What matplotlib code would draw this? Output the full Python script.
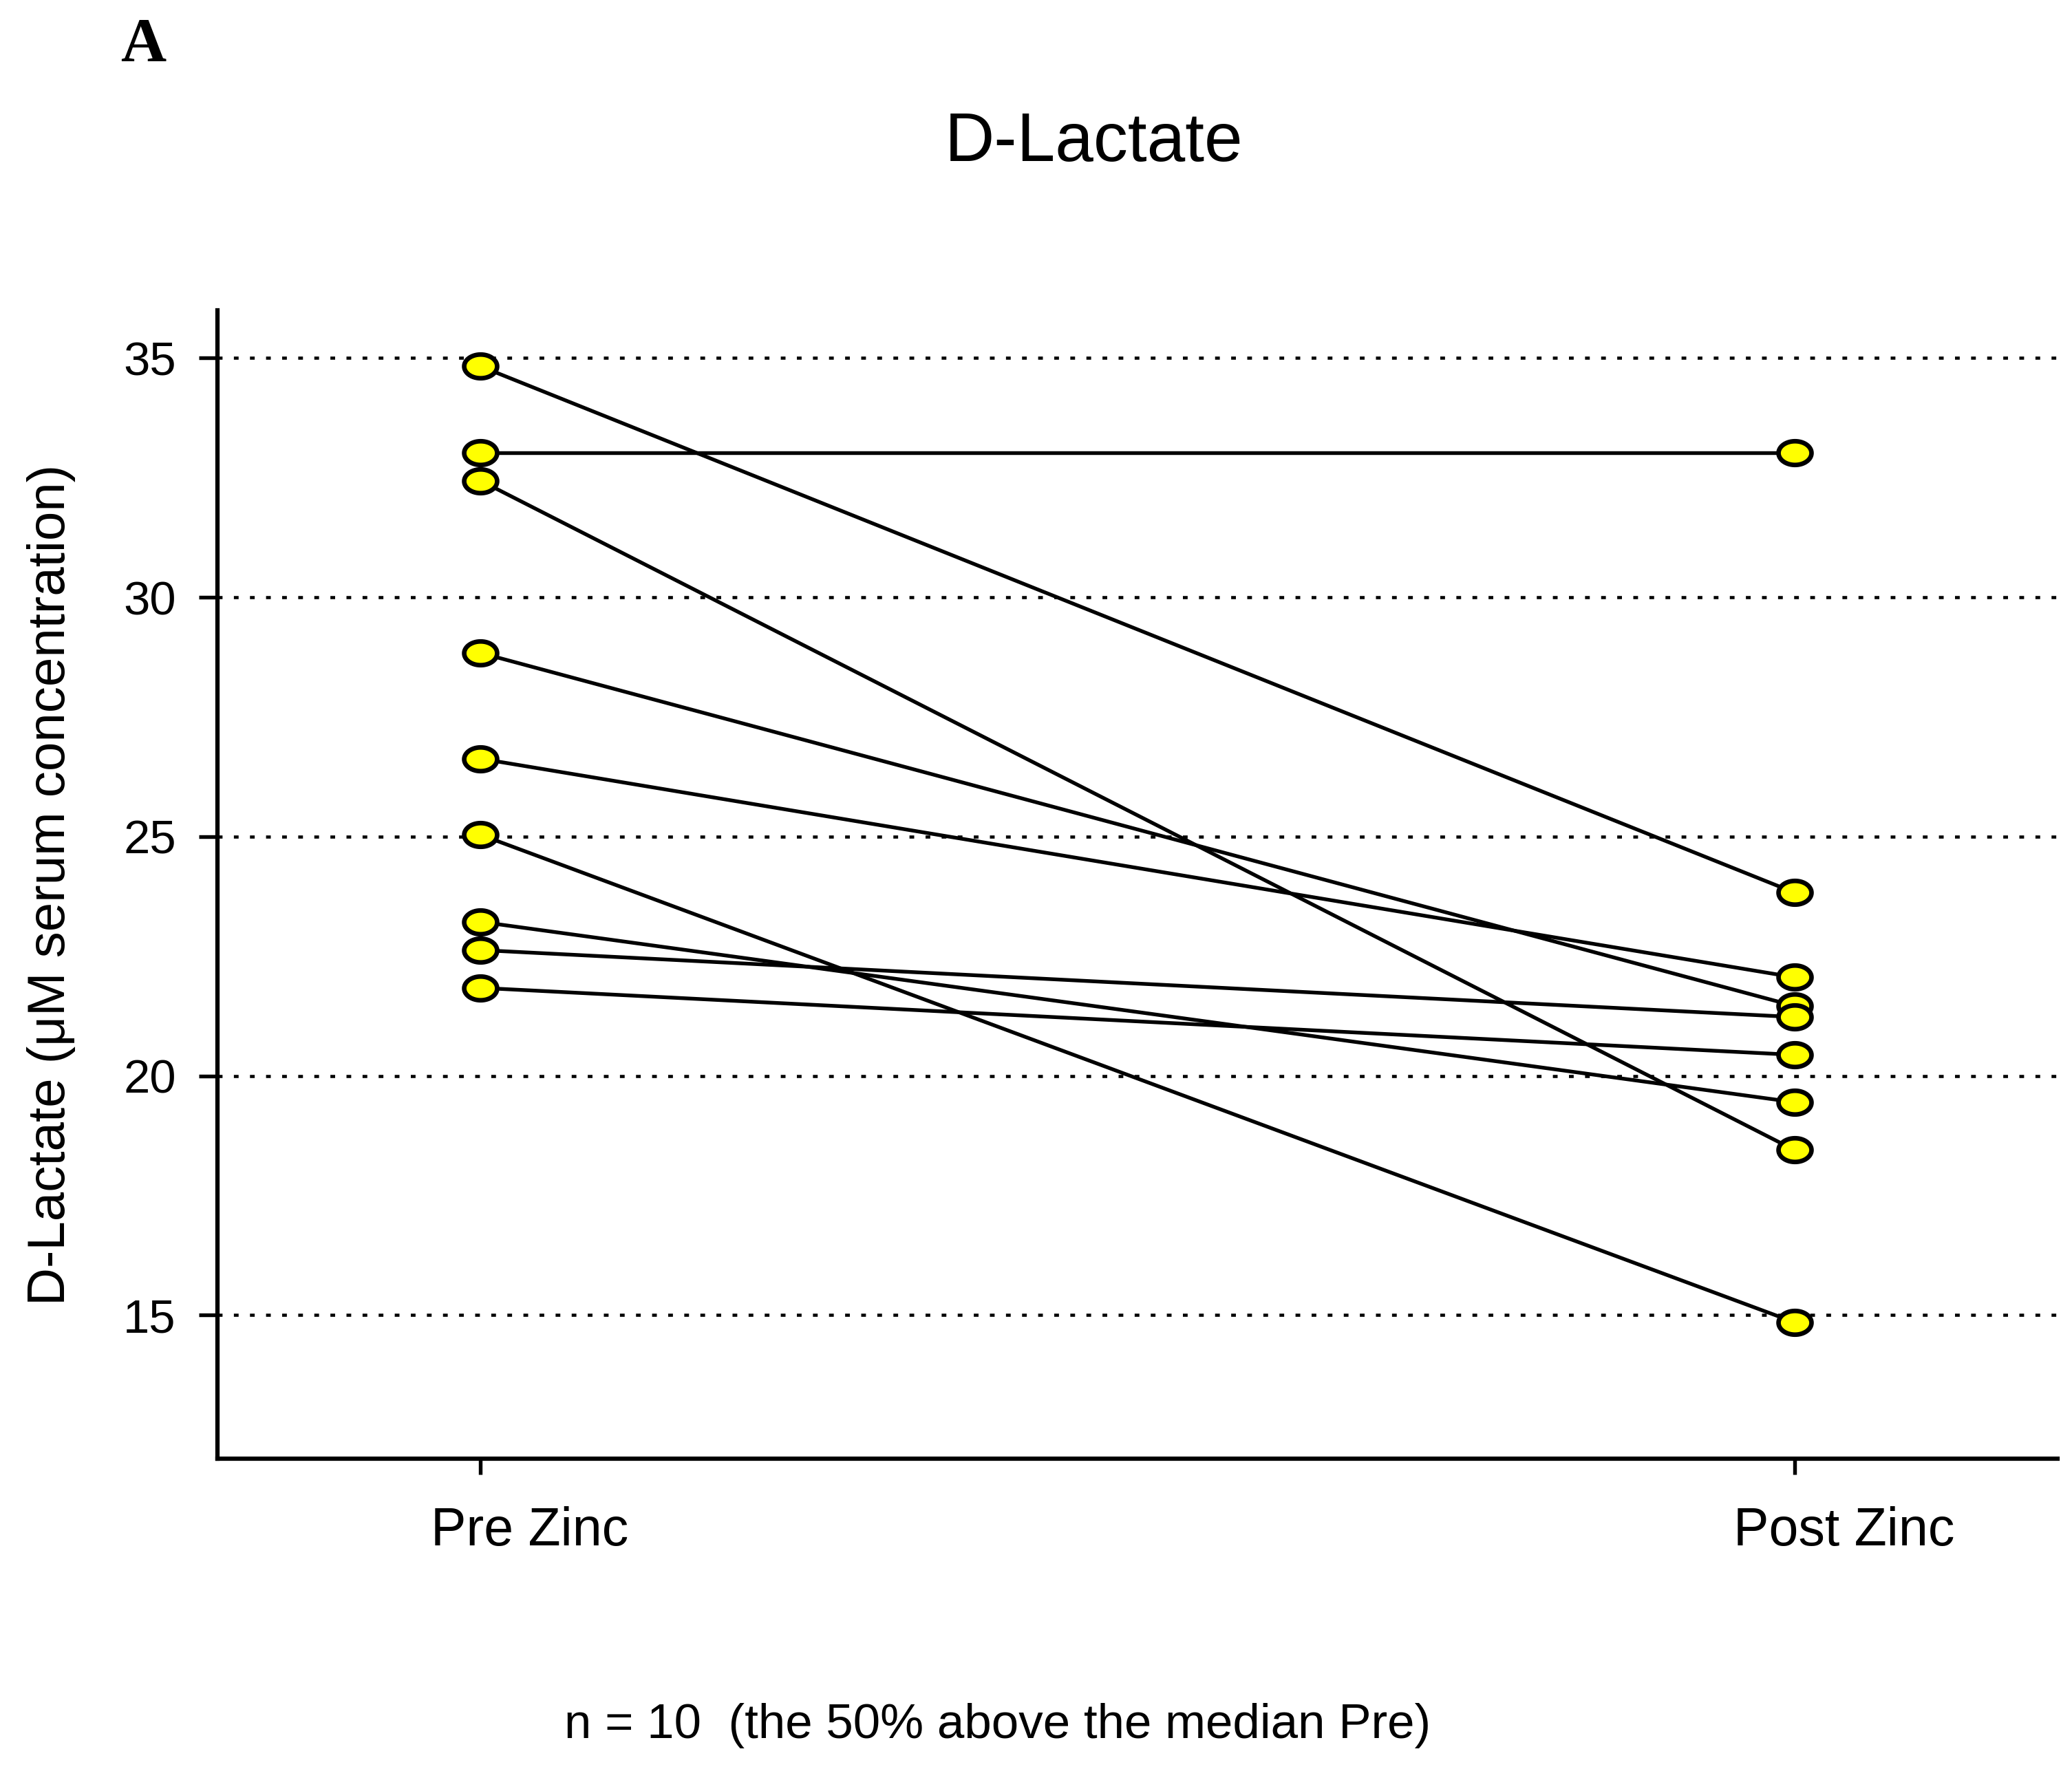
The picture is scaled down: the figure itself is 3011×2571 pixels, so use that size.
"""
D-Lactate pre/post zinc paired plot (panel A)
Output : out.png
"""

import matplotlib
matplotlib.use('Agg')
import matplotlib.pyplot as plt
import matplotlib.transforms as mtransforms
from matplotlib.path import Path
import numpy as np

# ── Data ──────────────────────────────────────────────────────
groups    = ['Pre Zinc', 'Post Zinc']
pre_zinc  = [34.83, 33.03, 32.44, 28.84, 26.63, 25.04, 23.22, 22.63, 21.84]
post_zinc = [23.83, 33.03, 18.45, 21.46, 22.06, 14.85, 19.45, 21.23, 20.44]
y_ticks   = [15, 20, 25, 30, 35]

# ── Style ─────────────────────────────────────────────────────
FONT   = 'Liberation Sans'
YELLOW = '#FFFF00'
plt.rcParams['font.family'] = FONT

# flattened ellipse marker, like the SigmaPlot original
t = np.linspace(0, 2 * np.pi, 60)
ellipse = Path(np.column_stack([np.cos(t), 0.72 * np.sin(t)]), closed=True)

fig = plt.figure(figsize=(3011 / 300, 2571 / 300), dpi=300, facecolor='white')
ax = fig.add_axes([0.105, 0.1754, 0.888, 0.6492])

x = [1, 2]
for a, b in zip(pre_zinc, post_zinc):
    ax.plot(x, [a, b], color='black', lw=1.3, zorder=2)
ax.plot([1] * len(pre_zinc), pre_zinc, ls='none', marker=ellipse, ms=11.5,
        mfc=YELLOW, mec='black', mew=1.6, zorder=3)
ax.plot([2] * len(post_zinc), post_zinc, ls='none', marker=ellipse, ms=11.5,
        mfc=YELLOW, mec='black', mew=1.6, zorder=3)

# ── Axes formatting ───────────────────────────────────────────
ax.set_xlim(0.8, 2.2)
ax.set_ylim(12, 36)
ax.set_yticks(y_ticks)
ax.set_xticks(x)
ax.set_xticklabels(groups, fontsize=18.5)
ax.tick_params(axis='y', labelsize=16.5, length=6.5, width=1.3, pad=8)
ax.tick_params(axis='x', length=5.5, width=1.3, pad=11)
ax.spines[['top', 'right']].set_visible(False)
ax.spines[['left', 'bottom']].set_linewidth(1.5)
ax.grid(axis='y', color='black', lw=1.1, ls=(0, (1.5, 3.6)))
ax.set_axisbelow(True)

# tick labels sit slightly right of the ticks in the original
shift = mtransforms.ScaledTranslation(0.24, 0, fig.dpi_scale_trans)
for lab in ax.get_xticklabels():
    lab.set_transform(lab.get_transform() + shift)

ax.set_ylabel('D-Lactate (\u03bcM serum concentration)', fontsize=18.3)
ax.yaxis.set_label_coords(-0.077, 0.5)

fig.text(0.528, 0.919, 'D-Lactate', fontsize=24, ha='center', va='center')
fig.text(0.069, 0.974, 'A', fontsize=22, fontweight='bold',
         family='Liberation Serif', ha='center', va='center')
fig.text(0.4815, 0.0245, 'n = 10  (the 50% above the median Pre)',
         fontsize=17, ha='center', va='center')

plt.savefig('out.png', dpi=300, facecolor='white')
print("Saved -> out.png")
